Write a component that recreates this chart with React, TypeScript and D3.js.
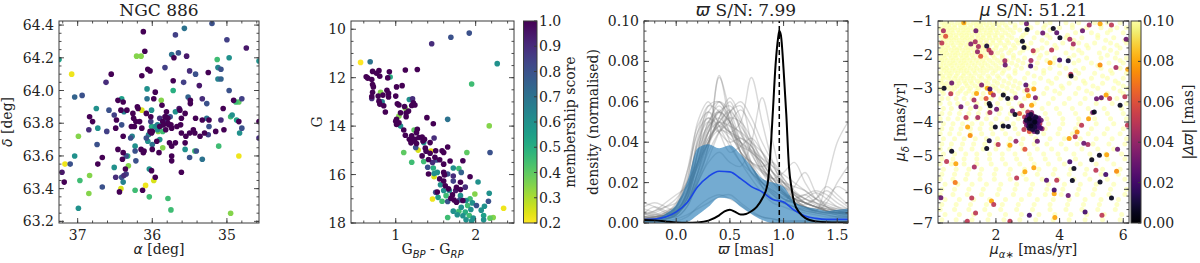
import React from "react";
import * as d3 from "d3";

const SERIF = "DejaVu Serif";
const MATH = "DejaVu Sans";
const EDGE = "#3a3a3a";

// ---- panel 1: sky positions of NGC 886 members [ra, dec, membership]
const skyPoints = [
  [35.20,64.41,0.8],[35.57,64.38,0.7],[36.12,64.36,1],[35.69,64.34,0.85],[35.00,64.31,0.85],[34.74,64.26,0.95],
  [36.10,64.24,1],[36.21,64.21,0.35],[36.15,64.21,0.35],[35.74,64.22,0.7],[35.65,64.23,0.8],[35.71,64.20,1],
  [35.54,64.21,0.95],[37.25,64.19,0.55],[35.13,64.19,0.45],[34.97,64.20,0.6],[34.57,64.18,0.6],[35.83,64.14,0.85],
  [36.06,64.13,1],[36.03,64.12,1],[37.08,64.10,0.22],[36.55,64.10,1],[35.50,64.12,0.9],[35.42,64.10,0.8],
  [35.25,64.11,1],[35.12,64.14,0.65],[35.08,64.13,0.8],[36.14,64.09,1],[36.62,64.05,0.9],[35.72,64.06,1],
  [35.58,64.05,0.85],[35.37,64.03,0.95],[35.12,64.07,0.65],[35.08,64.07,0.75],[36.07,64.01,0.6],[35.96,63.99,1],
  [35.72,64.00,0.5],[34.97,64.00,0.8],[37.04,63.96,0.75],[36.94,63.97,0.8],[36.41,63.95,0.55],[36.46,63.94,1],
  [36.07,63.95,0.7],[35.98,63.95,1],[35.88,63.94,0.35],[35.52,63.96,0.75],[35.49,63.94,1],[35.33,63.95,0.9],
  [34.91,63.94,1],[34.88,63.93,0.45],[34.84,63.93,0.4],[34.80,63.95,0.85],[36.39,63.93,1],[36.20,63.90,1],
  [36.19,63.89,1],[36.14,63.88,0.25],[36.01,63.88,0.6],[35.87,63.91,1],[35.49,63.92,1],[35.27,63.92,0.8],
  [35.05,63.89,1],[36.75,63.89,0.6],[36.58,63.88,0.8],[36.42,63.88,1],[36.34,63.88,1],[36.51,63.85,0.85],
  [36.38,63.87,0.65],[36.26,63.86,1],[36.08,63.86,1],[36.02,63.84,1],[35.81,63.87,1],[35.69,63.87,0.6],
  [35.63,63.88,1],[35.64,63.89,0.95],[35.56,63.86,1],[35.61,63.83,1],[35.42,63.83,1],[35.33,63.82,1],
  [35.27,63.83,0.7],[35.24,63.82,1],[35.08,63.82,0.9],[34.93,63.85,0.6],[34.95,63.84,0.45],[34.87,63.82,0.55],
  [34.84,63.81,1],[34.80,63.77,0.8],[34.83,63.74,0.6],[34.57,63.81,1],[34.57,63.71,0.9],[36.84,63.84,1],
  [36.80,63.81,1],[36.73,63.77,0.6],[36.48,63.82,1],[36.49,63.77,1],[36.41,63.79,0.8],[36.25,63.83,1],
  [36.22,63.81,1],[36.17,63.81,1],[36.28,63.78,1],[36.24,63.78,1],[36.14,63.77,1],[36.02,63.81,0.85],
  [36.01,63.78,0.5],[35.96,63.78,0.6],[35.93,63.79,0.65],[35.90,63.78,1],[35.86,63.81,1],[35.83,63.84,1],
  [35.82,63.81,0.85],[35.79,63.83,1],[35.76,63.84,0.8],[35.90,63.83,0.9],[35.87,63.79,0.6],[35.78,63.79,1],
  [35.75,63.79,1],[35.67,63.78,1],[35.62,63.79,1],[35.74,63.77,1],[35.82,63.76,1],[35.86,63.75,0.45],
  [35.92,63.75,0.35],[36.00,63.75,1],[36.03,63.75,1],[36.05,63.73,0.65],[36.06,63.69,0.6],[36.08,63.71,0.8],
  [36.01,63.74,1],[35.61,63.74,1],[35.55,63.72,1],[35.50,63.74,1],[35.43,63.74,1],[35.36,63.72,1],
  [35.30,63.74,1],[35.25,63.73,0.85],[35.15,63.75,1],[35.04,63.76,1],[35.24,63.78,0.8],[35.45,63.76,1],
  [36.85,63.76,0.9],[36.61,63.75,0.85],[36.39,63.72,1],[36.27,63.72,0.65],[36.29,63.71,0.8],[36.74,63.67,0.8],
  [36.23,63.66,0.6],[36.23,63.63,0.8],[36.15,63.64,1],[36.11,63.63,1],[36.12,63.62,1],[36.00,63.67,0.7],
  [36.00,63.64,1],[35.94,63.69,1],[35.90,63.70,0.6],[35.86,63.65,0.35],[35.77,63.68,1],[35.74,63.66,1],
  [35.69,63.68,1],[35.74,63.60,1],[35.74,63.57,1],[35.91,63.62,1],[35.56,63.64,0.6],[35.56,63.68,1],
  [35.43,63.63,0.45],[35.41,63.63,0.8],[35.50,63.59,0.8],[35.33,63.58,0.7],[35.61,63.50,1],[36.46,63.64,1],
  [36.39,63.62,1],[36.35,63.60,0.8],[36.33,63.60,0.5],[37.04,63.60,0.6],[36.67,63.59,1],[36.73,63.55,1],
  [37.10,63.55,0.8],[37.17,63.55,0.22],[36.40,63.58,1],[36.22,63.57,0.8],[36.32,63.54,0.35],[36.51,63.53,0.6],
  [36.36,63.52,1],[36.35,63.49,0.85],[36.38,63.48,0.9],[37.21,63.50,0.95],[37.18,63.44,1],[36.84,63.48,0.35],
  [36.97,63.45,0.45],[36.85,63.37,0.35],[36.99,63.28,0.6],[36.99,63.72,0.35],[36.67,63.41,0.8],[36.49,63.47,0.9],
  [36.41,63.47,0.8],[36.39,63.44,0.65],[36.44,63.38,1],[36.42,63.40,0.25],[36.23,63.39,0.45],[36.13,63.39,1],
  [36.09,63.42,0.22],[36.04,63.52,0.6],[36.01,63.51,1],[35.96,63.47,1],[35.98,63.45,0.25],[36.04,63.35,0.45],
  [35.79,63.34,0.45],[35.75,63.27,0.45],[34.84,63.60,0.22],[35.11,63.66,0.45],[34.95,63.25,0.35],
  [35.82,63.84,1],[35.79,63.80,1],[35.85,63.79,1],[35.93,63.76,0.6],
];
const skyXTicks = [37, 36, 35];
const skyYTicks = [63.2, 63.4, 63.6, 63.8, 64.0, 64.2, 64.4];

// ---- panel 2: colour-magnitude diagram [bp_rp, G, membership]
const cmdPoints = [
  [1.92,10.16,0.8],[1.69,10.33,0.8],[1.45,10.60,0.9],[0.56,11.37,0.2],[0.68,11.34,0.7],[2.27,11.42,0.6],
  [1.12,11.68,1],[1.27,11.66,1],[0.71,11.74,1],[0.79,11.71,1],[0.76,11.82,1],[0.92,11.76,1],[0.63,11.96,1],
  [0.65,12.02,1],[0.70,12.08,1],[0.80,11.94,1],[0.90,12.01,1],[0.93,11.97,0.5],[1.95,12.26,0.45],[0.71,12.28,1],
  [0.72,12.38,1],[1.01,12.38,1],[1.08,12.33,1],[0.71,12.60,1],[0.81,12.60,0.35],[0.89,12.52,1],[0.70,12.78,1],
  [0.70,12.86,0.9],[0.78,12.76,1],[0.84,12.72,1],[0.91,12.65,1],[0.91,12.80,1],[0.79,12.97,1],[0.83,13.00,0.65],
  [0.80,13.09,1],[0.85,13.16,1],[0.87,13.42,1],[1.00,12.76,1],[1.02,13.08,1],[1.04,13.13,1],[1.11,13.19,1],
  [1.17,12.90,0.6],[1.21,12.87,0.9],[1.22,13.04,1],[1.20,13.15,1],[1.24,13.13,1],[1.12,13.26,0.35],[1.06,13.45,1],
  [1.13,13.46,1],[1.16,13.38,1],[1.04,13.58,0.35],[1.01,13.72,1],[1.00,13.80,1],[1.01,13.93,1],[1.04,13.86,1],
  [1.13,13.61,1],[1.39,13.65,1],[1.65,13.72,0.7],[1.47,13.90,1],[2.17,13.99,0.35],[1.06,14.00,0.6],[1.10,14.16,1],
  [1.12,14.38,1],[1.23,14.16,0.4],[1.27,14.13,1],[1.26,14.27,1],[1.20,14.40,1],[1.17,14.54,1],[1.21,14.61,1],
  [1.24,14.54,1],[1.29,14.47,1],[1.33,14.45,1],[1.36,14.54,1],[1.34,14.61,1],[1.26,14.72,1],[1.19,14.69,1],
  [1.25,14.88,0.8],[1.28,14.99,0.25],[1.35,14.68,0.6],[1.37,14.91,1],[1.43,14.68,1],[1.48,14.49,0.9],[1.65,14.86,1],
  [1.38,15.04,1],[1.43,15.12,1],[1.44,15.03,0.22],[1.50,15.02,1],[1.58,15.02,1],[1.60,15.09,1],[1.49,15.29,1],
  [1.51,15.40,0.8],[1.10,15.09,0.4],[2.18,15.09,0.8],[1.89,15.09,0.4],[1.33,15.23,1],[1.35,15.46,0.45],
  [1.20,15.49,0.45],[1.41,15.38,1],[1.46,15.50,0.9],[1.55,15.39,1],[1.60,15.57,1],[1.68,15.44,1],[1.72,15.73,0.6],
  [1.84,15.43,1],[1.79,15.75,0.45],[1.40,15.70,0.8],[1.47,15.73,0.5],[1.41,15.98,1],[1.48,15.96,0.6],[1.52,15.91,0.6],
  [1.60,15.91,1],[1.61,16.02,1],[1.65,15.98,0.8],[1.72,16.06,0.9],[1.82,15.91,0.75],[1.93,16.09,1],[1.48,16.09,0.25],
  [1.55,16.18,1],[1.60,16.27,1],[1.72,16.27,0.85],[1.81,16.32,1],[2.03,16.31,0.6],[1.56,16.42,0.6],[1.62,16.46,1],
  [1.66,16.59,1],[1.76,16.53,1],[1.81,16.62,1],[1.87,16.52,0.9],[1.50,16.73,0.8],[1.60,16.66,0.6],[1.67,16.66,0.6],
  [1.75,16.66,0.95],[1.99,16.80,0.35],[2.17,16.77,0.6],[1.63,16.87,0.45],[1.71,16.84,1],[1.81,16.87,0.6],
  [1.46,17.01,0.22],[1.53,16.94,0.55],[1.69,16.98,1],[1.73,17.05,1],[1.80,17.05,0.8],[1.84,17.07,1],[1.88,17.07,0.6],
  [1.93,17.00,0.45],[1.58,17.10,0.45],[1.65,17.11,0.8],[1.76,17.14,1],[2.16,17.10,0.8],[1.96,17.17,0.6],
  [2.01,17.28,0.8],[1.90,17.28,0.45],[1.82,17.35,0.6],[1.72,17.51,0.6],[1.79,17.52,0.45],[1.87,17.55,0.5],
  [1.94,17.44,0.6],[2.07,17.47,0.6],[2.11,17.31,0.6],[2.35,17.39,0.22],[1.77,17.66,0.6],[1.84,17.70,0.6],
  [1.92,17.69,0.45],[1.97,17.80,0.6],[1.65,17.77,0.45],[2.10,17.87,0.6],[2.18,17.80,0.4],[2.22,17.77,0.35],
  [1.95,17.92,0.6],[1.88,17.87,0.6],[2.10,17.69,0.55],[1.52,16.72,1],
];
const cmdXTicks = [1, 2];
const cmdYTicks = [10, 12, 14, 16, 18];
const memberTicks = [0.2, 0.3, 0.4, 0.5, 0.6, 0.7, 0.8, 0.9, 1.0];

// ---- panel 3: parallax densities (values x 1000) on a 0.1 mas grid
const plxGrid = [-0.3,-0.2,-0.1,0,0.1,0.2,0.3,0.4,0.5,0.6,0.7,0.8,0.9,1.0,1.1,1.2,1.3,1.4,1.5,1.6];
const plxSamples = [
  [2,3,5,10,25,45,58,55,40,30,22,15,10,8,6,5,4,3,3,3],
  [5,8,6,4,12,35,55,60,50,35,28,20,15,12,10,8,6,5,4,4],
  [1,2,4,8,18,30,40,52,60,45,30,18,12,10,8,6,5,5,6,7],
  [10,8,5,3,8,20,38,73,50,35,25,20,15,10,8,6,5,4,3,3],
  [2,2,3,6,15,40,50,45,55,58,40,25,18,14,12,10,8,6,5,5],
  [3,5,8,12,20,30,45,55,50,40,35,30,25,20,15,10,8,6,5,5],
  [1,1,2,5,15,35,48,60,55,40,28,20,14,10,18,25,15,8,5,4],
  [6,4,3,5,10,25,40,50,45,50,72,50,30,18,12,8,6,5,5,6],
  [2,3,4,7,20,50,60,48,38,30,25,20,16,12,10,12,15,12,8,6],
  [8,10,8,6,10,25,45,55,58,50,35,25,20,15,10,8,6,10,20,28],
  [2,2,3,5,12,30,45,56,48,38,30,25,22,25,30,20,12,8,6,5],
  [1,2,3,8,25,48,55,50,45,40,30,22,17,12,10,8,6,20,40,50],
  [3,3,4,6,10,22,38,72,55,35,25,18,14,10,8,7,6,5,5,5],
  [4,6,10,14,18,28,40,48,45,42,38,30,22,16,12,10,8,6,5,5],
  [2,2,2,4,14,40,52,45,40,42,38,28,20,14,10,8,7,6,5,4],
  [1,1,2,4,10,25,40,50,55,48,40,32,25,20,15,12,10,8,6,5],
  [7,5,3,3,8,22,35,45,50,56,48,35,25,18,14,10,8,6,5,5],
  [2,3,5,9,20,38,48,52,45,35,30,28,30,22,14,10,8,7,6,6],
  [1,2,3,6,14,35,58,60,52,40,28,18,12,10,12,14,10,6,4,3],
  [3,3,4,8,18,32,45,50,48,45,40,35,28,20,14,10,12,16,12,8],
  [2,4,6,8,15,30,42,48,52,50,42,30,22,15,12,10,8,7,6,5],
  [5,3,2,4,12,30,50,55,45,35,30,26,22,18,15,12,10,8,7,6],
  [1,1,2,5,16,42,55,45,35,38,42,35,25,16,10,7,5,4,3,3],
  [3,4,5,7,12,24,38,52,62,52,38,28,20,15,12,10,8,6,5,5],
  [2,2,4,8,22,45,52,48,42,38,35,30,22,15,10,8,7,12,18,15],
  [1,2,3,5,10,20,32,45,55,60,52,40,30,22,16,12,9,7,6,5],
  [4,6,8,10,16,28,40,46,44,40,36,32,28,24,20,16,12,10,8,7],
  [2,3,4,6,14,34,50,58,50,38,28,20,16,13,12,14,16,14,10,7],
  [1,1,1,1,3,8,12,14,12,9,5,3,2,1,1,1,1,1,1,1],
  [0,0,1,2,4,7,10,13,14,10,6,3,2,1,1,1,1,1,1,1],
  [2,2,3,5,10,20,30,35,30,28,40,62,40,20,12,8,6,5,4,4],
  [3,2,2,4,12,28,42,50,56,46,34,26,22,20,18,16,12,9,7,6],
  [1,2,4,7,14,30,47,55,50,44,36,27,19,14,11,9,12,18,14,9],
];
const plxBandUpper = [1.5,2,4.5,9,20,37,39,37,38.5,34,28,22,20,18,10.5,8,7,6,6.5,7];
const plxBandLower = [0,0,0,0,0.5,4,8,12.5,12,8,4.5,1.5,0,0,0,0,0,0,0,0];
const plxMean = [1.7,2,3,5.5,10,18,23,25.6,25.3,22,18,15.4,11.6,10.4,6.3,3.5,2.3,1.8,1.8,1.8];
const clusterX = [-0.3,-0.2,-0.1,0,0.1,0.2,0.3,0.4,0.45,0.5,0.55,0.6,0.65,0.7,0.75,0.8,0.85,0.875,0.9,0.925,0.95,0.96,0.975,1.0,1.025,1.05,1.075,1.1,1.15,1.2,1.3,1.4,1.5,1.6];
const clusterDensity = [1.5,1.3,0.8,0.3,0.1,0.3,1.2,3.8,5.8,6.6,5.5,4.2,4.5,5.8,8,12,19,33,55,78,92,95,93,76,54,28,17,10,5,2.5,0.8,0.4,0.3,0.3];
const plxPeak = 0.96;
const plxXTicks = [0, 0.5, 1.0, 1.5];
const plxYTicks = [0, 0.02, 0.04, 0.06, 0.08, 0.1];

// ---- panel 4: proper motions
// field stars, one row per pmdec: [pmdec, pmra...]
const pmFieldRows = [
  [-1.05,0.3,0.45,0.6,0.8,0.95,1.1,1.3,1.45,1.6,1.8,2.0,2.2,2.45,2.8,3.3,3.7,4.2,4.6,5.1,5.5,5.9],
  [-1.12,0.38,0.52,0.7,0.88,1.02,1.2,1.38,1.52,1.7,1.9,2.1,2.3,2.6,3.0,3.55,4.4,5.3],
  [-1.2,0.25,0.4,0.55,0.7,0.9,1.05,1.2,1.4,1.55,1.75,1.9,2.1,2.35,2.6,3.1,3.5,4.0,4.4,4.85,5.3,5.8,6.1],
  [-1.27,0.3,0.48,0.62,0.8,0.97,1.12,1.3,1.47,1.63,1.82,2.0,2.2,2.45,2.75,3.7,4.7,5.6],
  [-1.35,0.35,0.5,0.65,0.85,1.0,1.15,1.35,1.5,1.7,1.85,2.05,2.3,2.55,2.95,3.3,3.9,4.5,5.0,5.5,6.0],
  [-1.42,0.27,0.44,0.58,0.75,0.92,1.08,1.25,1.42,1.6,1.78,1.97,2.18,2.4,2.85,3.6,4.25,5.2],
  [-1.5,0.3,0.45,0.6,0.75,0.95,1.1,1.25,1.45,1.6,1.8,2.0,2.2,2.5,2.8,3.2,3.7,4.2,4.7,5.2,5.7],
  [-1.57,0.36,0.52,0.68,0.85,1.02,1.18,1.36,1.53,1.7,1.9,2.1,2.35,2.65,3.45,4.45,5.45,6.05],
  [-1.65,0.25,0.4,0.6,0.8,0.95,1.15,1.3,1.5,1.7,1.9,2.15,2.4,2.7,3.1,3.6,4.1,4.6,5.1,5.6,6.1],
  [-1.72,0.3,0.48,0.66,0.9,1.08,1.25,1.42,1.6,1.8,2.02,2.27,2.55,2.9,3.85,4.85,5.8],
  [-1.8,0.35,0.5,0.7,0.85,1.05,1.2,1.4,1.6,1.75,2.0,2.3,2.6,3.0,3.45,3.9,4.4,4.9,5.4,5.9],
  [-1.87,0.27,0.42,0.6,0.77,0.95,1.12,1.3,1.48,1.67,1.9,2.17,2.47,2.85,3.3,4.6,5.6],
  [-1.95,0.3,0.45,0.65,0.8,1.0,1.15,1.35,1.55,1.8,2.05,2.4,2.75,3.2,3.6,4.2,4.7,5.25,5.8],
  [-2.02,0.37,0.54,0.72,0.9,1.07,1.25,1.45,1.65,1.9,2.2,2.55,3.4,4.45,5.5],
  [-2.1,0.25,0.4,0.6,0.75,0.95,1.1,1.3,1.5,1.7,1.95,2.2,2.55,2.9,3.35,3.85,4.3,4.85,5.3,5.75,6.1],
  [-2.17,0.3,0.47,0.65,0.83,1.0,1.18,1.38,1.58,1.8,2.05,2.35,2.7,3.6,4.6,5.9],
  [-2.25,0.35,0.55,0.7,0.9,1.05,1.25,1.45,1.65,1.9,2.15,2.5,2.85,3.3,3.8,4.45,5.0,5.55,6.0],
  [-2.32,0.27,0.44,0.6,0.78,0.95,1.13,1.33,1.55,1.75,2.0,2.3,2.65,3.05,4.0,5.2],
  [-2.4,0.3,0.45,0.65,0.85,1.0,1.2,1.4,1.6,1.85,2.1,2.4,2.8,3.25,3.7,4.2,4.75,5.3,5.9],
  [-2.47,0.37,0.53,0.72,0.9,1.08,1.3,1.5,1.72,1.98,2.25,2.6,3.5,4.5,5.6],
  [-2.55,0.25,0.45,0.6,0.8,1.0,1.15,1.35,1.6,1.9,2.2,2.6,3.0,3.5,4.0,4.6,5.1,5.65,6.1],
  [-2.63,0.33,0.55,0.75,0.97,1.22,1.48,1.75,2.05,2.4,3.2,4.3,5.35],
  [-2.7,0.35,0.5,0.7,0.9,1.1,1.3,1.55,1.8,2.1,2.45,2.9,3.4,3.9,4.5,5.0,5.5,6.0],
  [-2.78,0.27,0.6,0.8,1.0,1.2,1.42,1.68,1.95,2.25,2.6,3.65,4.75,5.75],
  [-2.85,0.3,0.45,0.65,0.85,1.05,1.25,1.5,1.75,2.05,2.4,2.75,3.2,3.75,4.3,4.8,5.35,5.85],
  [-2.93,0.38,0.58,0.78,1.1,1.35,1.62,1.9,2.2,2.55,3.0,4.05,5.05,6.0],
  [-3.0,0.25,0.5,0.7,0.95,1.2,1.45,1.7,2.0,2.35,2.7,3.15,3.6,4.1,4.6,5.2,5.7,6.15],
  [-3.08,0.3,0.62,0.88,1.15,1.4,1.8,2.1,2.5,2.9,3.85,4.85,5.9],
  [-3.15,0.35,0.6,0.8,1.05,1.3,1.6,1.9,2.25,2.6,3.0,3.5,4.0,4.5,5.0,5.5,6.0],
  [-3.3,0.3,0.5,0.75,1.0,1.25,1.55,1.85,2.15,2.5,2.9,3.3,3.8,4.3,4.8,5.3,5.8],
  [-3.45,0.25,0.55,0.8,1.1,1.4,1.7,2.05,2.4,2.75,3.2,3.65,4.15,4.65,5.15,5.65,6.1],
  [-3.6,0.35,0.6,0.9,1.2,1.5,1.8,2.15,2.5,2.85,3.45,3.9,4.4,4.9,5.4,5.95],
  [-3.75,0.3,0.55,0.85,1.15,1.45,1.75,2.1,2.45,2.8,3.55,4.0,4.5,5.0,5.5,6.0],
  [-3.9,0.25,0.5,0.8,1.1,1.4,1.7,2.0,2.35,2.7,3.6,4.1,4.6,5.1,5.6,6.1],
  [-4.05,0.35,0.65,0.95,1.25,1.55,1.85,2.2,2.55,3.65,4.1,4.6,5.15,5.7],
  [-4.2,0.3,0.6,0.9,1.2,1.5,1.85,2.2,2.6,2.9,3.55,4.0,4.5,5.0,5.5,6.0],
  [-4.35,0.25,0.55,0.85,1.2,1.55,1.9,2.3,2.7,3.1,3.5,3.95,4.4,4.9,5.4,5.9],
  [-4.5,0.35,0.7,1.0,1.35,1.7,2.05,2.45,2.85,3.25,3.7,4.15,4.65,5.15,5.65,6.1],
  [-4.65,0.3,0.6,0.95,1.3,1.65,2.0,2.4,2.8,3.2,3.6,4.05,4.55,5.05,5.55,6.05],
  [-4.8,0.25,0.55,0.9,1.25,1.6,2.0,2.4,2.85,3.3,3.75,4.2,4.7,5.2,5.7],
  [-4.95,0.35,0.7,1.05,1.4,1.8,2.2,2.6,3.05,3.5,3.95,4.45,4.95,5.45,5.95],
  [-5.1,0.3,0.65,1.0,1.4,1.8,2.2,2.65,3.1,3.55,4.0,4.5,5.0,5.5,6.05],
  [-5.25,0.25,0.6,1.0,1.4,1.85,2.3,2.75,3.2,3.65,4.15,4.65,5.15,5.7],
  [-5.4,0.35,0.75,1.15,1.55,2.0,2.45,2.9,3.35,3.85,4.35,4.85,5.35,5.9],
  [-5.55,0.3,0.7,1.1,1.5,1.95,2.4,2.85,3.3,3.8,4.3,4.8,5.3,5.85],
  [-5.7,0.25,0.65,1.05,1.5,1.95,2.45,2.95,3.45,3.95,4.45,4.95,5.5,6.05],
  [-5.85,0.4,0.8,1.25,1.7,2.15,2.65,3.15,3.65,4.15,4.65,5.15,5.7],
  [-6.0,0.3,0.7,1.15,1.6,2.1,2.6,3.1,3.6,4.1,4.6,5.1,5.6,6.1],
  [-6.15,0.25,0.65,1.1,1.55,2.05,2.55,3.05,3.55,4.05,4.55,5.05,5.55,6.05],
  [-6.3,0.4,0.85,1.3,1.8,2.3,2.8,3.3,3.8,4.3,4.8,5.3,5.85],
  [-6.45,0.3,0.75,1.2,1.7,2.2,2.7,3.2,3.7,4.25,4.75,5.25,5.8],
  [-6.6,0.25,0.7,1.15,1.65,2.15,2.65,3.15,3.7,4.2,4.7,5.2,5.75],
  [-6.75,0.4,0.85,1.3,1.8,2.3,2.8,3.35,3.85,4.35,4.85,5.4,5.95],
  [-6.9,0.3,0.75,1.25,1.75,2.25,2.75,3.25,3.8,4.3,4.8,5.35,5.9],
];
// stars with small parallax offset [pmra, pmdec, |dplx|]
const pmPoints = [
  [0.99,-1.05,.08],[0.35,-1.29,.045],[1.37,-1.29,.03],[2.96,-1.08,.03],[2.98,-1.25,.005],[3.80,-1.22,.005],
  [3.91,-1.35,.025],[4.01,-1.50,.005],[4.72,-1.29,.03],[5.27,-1.08,.08],[5.63,-1.12,.05],[6.09,-1.54,.03],
  [4.93,-1.12,.045],[3.47,-1.36,.03],[1.21,-1.68,.035],[1.45,-1.76,.045],[1.71,-1.74,.01],[1.35,-1.62,.045],
  [2.83,-1.60,.005],[2.88,-1.79,.005],[3.17,-1.88,.05],[3.75,-1.86,.05],[4.32,-1.54,.045],[4.43,-1.68,.045],
  [1.42,-1.91,.04],[1.78,-1.86,.05],[1.85,-1.94,.045],[2.28,-2.18,.045],[2.29,-2.31,.03],[3.09,-2.34,.02],
  [3.10,-2.17,.045],[3.70,-2.24,.08],[4.00,-2.16,.02],[4.27,-2.18,.01],[4.35,-2.58,.05],[4.36,-2.63,.005],
  [5.27,-2.31,.075],[5.77,-2.38,.045],[6.14,-2.43,.08],[0.37,-3.00,.005],[0.61,-2.84,.03],[0.58,-3.16,.05],
  [1.39,-3.15,.08],[1.55,-2.90,.035],[1.73,-3.00,.08],[1.81,-3.02,.02],[1.83,-3.13,.075],[1.92,-3.20,.045],
  [2.23,-3.20,.005],[1.69,-3.30,.06],[1.79,-3.45,.005],[1.82,-3.52,.005],[2.02,-3.62,.03],[2.37,-3.30,.005],
  [2.63,-3.28,.03],[2.94,-2.90,.025],[2.98,-3.05,.05],[3.19,-3.02,.08],[3.24,-3.28,.035],[3.02,-3.22,.08],
  [3.12,-3.50,.08],[2.81,-3.52,.05],[2.74,-3.75,.06],[2.60,-3.78,.005],[2.52,-3.67,.03],[2.39,-4.13,.005],
  [2.23,-4.12,.005],[1.98,-4.15,.005],[1.81,-3.72,.045],[1.43,-3.87,.045],[1.06,-3.87,.05],[0.90,-3.55,.03],
  [1.37,-3.55,.035],[1.31,-3.35,.045],[1.11,-4.15,.08],[1.19,-4.40,.075],[1.79,-4.56,.01],[1.71,-4.79,.005],
  [2.07,-4.67,.05],[2.44,-4.69,.08],[2.63,-4.57,.04],[3.30,-4.57,.03],[2.91,-4.81,.06],[0.61,-4.87,.005],
  [0.45,-5.17,.05],[0.74,-5.24,.08],[1.32,-5.34,.045],[0.72,-5.80,.07],[2.65,-5.66,.05],[2.91,-5.48,.08],
  [3.19,-5.36,.08],[3.59,-5.73,.025],[3.83,-6.02,.02],[3.83,-6.13,.08],[3.91,-5.73,.05],[4.32,-5.18,.02],
  [4.45,-5.38,.005],[4.40,-5.74,.005],[4.30,-4.49,.08],[4.49,-4.44,.05],[4.55,-4.30,.075],[4.69,-4.10,.05],
  [4.76,-4.63,.03],[4.89,-4.67,.045],[4.91,-3.90,.08],[5.04,-3.72,.03],[5.09,-3.70,.005],[5.16,-3.31,.03],
  [5.31,-3.28,.03],[5.46,-3.20,.08],[5.57,-3.30,.05],[5.90,-3.50,.005],[6.05,-3.25,.05],[6.13,-4.10,.05],
  [5.48,-4.97,.08],[5.25,-4.99,.005],[5.01,-5.12,.005],[5.82,-4.81,.03],[5.79,-5.46,.075],[5.27,-5.78,.005],
  [5.14,-5.43,.05],[5.45,-5.56,.02],[5.63,-6.26,.005],[5.33,-6.77,.05],[4.80,-6.67,.02],[4.27,-6.18,.03],
  [3.05,-6.77,.02],[3.85,-6.84,.08],[2.44,-6.95,.05],[1.93,-6.45,.05],[1.86,-6.35,.08],[1.24,-6.26,.05],
  [1.36,-6.70,.05],[1.10,-6.95,.05],[0.27,-6.25,.03],[0.42,-1.45,.06],[0.30,-1.65,.05],[1.52,-2.05,.06],
];
// the cluster core
const pmCluster = [
  [3.02,-3.80,.02],[3.10,-3.78,.01],[3.18,-3.82,.03],[3.25,-3.85,.01],[3.30,-3.90,.02],[2.98,-3.88,.03],
  [3.05,-3.90,.005],[3.12,-3.88,.02],[3.20,-3.92,.01],[3.28,-3.95,.03],[3.35,-3.98,.02],[2.95,-3.95,.01],
  [3.00,-3.98,.02],[3.08,-3.96,.01],[3.15,-3.97,.03],[3.22,-4.00,.005],[3.30,-4.02,.02],[2.98,-4.03,.03],
  [3.05,-4.05,.01],[3.12,-4.04,.02],[3.18,-4.06,.01],[3.25,-4.08,.03],[3.32,-4.06,.04],[3.02,-4.12,.02],
  [3.10,-4.12,.005],[3.16,-4.14,.03],[3.22,-4.15,.01],[3.28,-4.13,.02],[3.08,-4.20,.03],[3.15,-4.22,.01],
  [3.22,-4.22,.02],[3.30,-4.20,.04],[2.92,-4.00,.04],[3.38,-4.05,.05],[3.35,-3.88,.03],[3.12,-3.72,.04],
  [3.00,-3.70,.05],[3.20,-4.28,.03],[3.05,-4.28,.06],[2.90,-3.85,.05],[3.40,-4.18,.02],[3.14,-3.90,.02],
  [3.18,-4.00,.01],[3.10,-4.00,.02],[3.24,-3.90,.02],[3.06,-3.84,.03],[3.26,-4.02,.015],[3.04,-4.18,.01],
  [3.34,-4.12,.025],[2.96,-4.10,.035],[3.45,-4.20,.04],[3.30,-4.30,.01],[2.88,-4.22,.05],[3.42,-3.95,.03],
];
const pmXTicks = [2, 4, 6];
const pmYTicks = [-7, -6, -5, -4, -3, -2, -1];
const dplxTicks = [0, 0.02, 0.04, 0.06, 0.08, 0.1];

const TOP = 21, BOTTOM = 223;

type Lin = d3.ScaleLinear<number, number>;

function minorValues(s: Lin, step: number) {
  const [a, b] = s.domain();
  const lo = Math.min(a, b), hi = Math.max(a, b);
  return d3.range(Math.ceil(lo / step - 1e-6) * step, hi + 1e-9, step);
}

// box, inward ticks on all four sides, tick labels
function Frame({ x, y, xTicks, yTicks, xMinor, yMinor, xFmt, yFmt }: any) {
  const [l, r] = x.range();
  const [b, t] = y.range();
  const segs: number[][] = [];
  xTicks.forEach((v: number) => { const p = x(v); segs.push([p, b, p, b - 5], [p, t, p, t + 5]); });
  yTicks.forEach((v: number) => { const p = y(v); segs.push([l, p, l + 5, p], [r, p, r - 5, p]); });
  minorValues(x, xMinor).forEach((v) => { const p = x(v); segs.push([p, b, p, b - 2.5], [p, t, p, t + 2.5]); });
  minorValues(y, yMinor).forEach((v) => { const p = y(v); segs.push([l, p, l + 2.5, p], [r, p, r - 2.5, p]); });
  return (
    <g>
      {segs.map((s, i) => (
        <line key={i} x1={s[0]} y1={s[1]} x2={s[2]} y2={s[3]} stroke={EDGE} strokeWidth={0.9} />
      ))}
      <rect x={l} y={t} width={r - l} height={b - t} fill="none" stroke={EDGE} strokeWidth={1} />
      {xTicks.map((v: number) => (
        <text key={"x" + v} x={x(v)} y={b + 17} textAnchor="middle" fontSize={14} fontFamily={SERIF} fill="#222">
          {xFmt(v)}
        </text>
      ))}
      {yTicks.map((v: number) => (
        <text key={"y" + v} x={l - 5} y={y(v)} dy="0.36em" textAnchor="end" fontSize={14} fontFamily={SERIF} fill="#222">
          {yFmt(v)}
        </text>
      ))}
    </g>
  );
}

function Colorbar({ id, x0, x1, scale, interp, ticks, fmt }: any) {
  const stops = d3.range(0, 1.0001, 0.05);
  return (
    <g>
      <defs>
        <linearGradient id={id} x1="0" y1="1" x2="0" y2="0">
          {stops.map((s) => (
            <stop key={s} offset={s} stopColor={interp(s)} />
          ))}
        </linearGradient>
      </defs>
      <rect x={x0} y={TOP} width={x1 - x0} height={BOTTOM - TOP} fill={`url(#${id})`} stroke={EDGE} strokeWidth={1} />
      {ticks.map((v: number) => (
        <g key={v}>
          <line x1={x1} x2={x1 - 3} y1={scale(v)} y2={scale(v)} stroke={EDGE} />
          <text x={x1 + 2} y={scale(v)} dy="0.36em" fontSize={14} fontFamily={SERIF} fill="#222">
            {fmt(v)}
          </text>
        </g>
      ))}
    </g>
  );
}

const minus = (s: string) => s.replace("-", "\u2212");

export default function App() {
  // panel 1
  const x1 = d3.scaleLinear().domain([37.25, 34.57]).range([59, 259]);
  const y1 = d3.scaleLinear().domain([63.19, 64.425]).range([BOTTOM, TOP]);
  const memberColor = (m: number) => d3.interpolateViridis(1 - (m - 0.2) / 0.8);
  const sky = [...skyPoints].sort((a, b) => a[2] - b[2]);

  // panel 2
  const x2 = d3.scaleLinear().domain([0.44, 2.48]).range([351, 514]);
  const y2 = d3.scaleLinear().domain([18, 9.66]).range([BOTTOM, TOP]);
  const cb2 = d3.scaleLinear().domain([0.2, 1.0]).range([BOTTOM, TOP]);
  const cmd = [...cmdPoints].sort((a, b) => a[2] - b[2]);

  // panel 3
  const x3 = d3.scaleLinear().domain([-0.3, 1.6]).range([644, 848]);
  const y3 = d3.scaleLinear().domain([0, 0.1]).range([BOTTOM, TOP]);
  const greyLine = d3.line<number>().x((_, i) => x3(plxGrid[i])).y((d) => y3(d / 1000)).curve(d3.curveCatmullRom.alpha(0.5));
  const band = d3
    .area<number>()
    .x((_, i) => x3(plxGrid[i]))
    .y0((_, i) => y3(plxBandLower[i] / 1000))
    .y1((d) => y3(d / 1000))
    .curve(d3.curveMonotoneX);
  const meanLine = d3.line<number>().x((_, i) => x3(plxGrid[i])).y((d) => y3(d / 1000)).curve(d3.curveMonotoneX);
  const clusterLine = d3.line<number>().x((_, i) => x3(clusterX[i])).y((d) => y3(d / 1000)).curve(d3.curveMonotoneX);

  // panel 4
  const x4 = d3.scaleLinear().domain([0.18, 6.18]).range([938, 1129]);
  const y4 = d3.scaleLinear().domain([-7, -1]).range([BOTTOM, TOP]);
  const cb4 = d3.scaleLinear().domain([0, 0.1]).range([BOTTOM, TOP]);
  const dplxColor = (v: number) => d3.interpolateInferno(Math.min(1, v / 0.1));
  const field: number[][] = [];
  pmFieldRows.forEach((row) => row.slice(1).forEach((v) => field.push([v, row[0]])));
  const coloured = [...pmPoints, ...pmCluster].sort((a, b) => b[2] - a[2]);

  const label = { fontSize: 14, fontFamily: SERIF, fill: "#222" } as const;
  const title = { fontSize: 17, fontFamily: SERIF, fill: "#222", textAnchor: "middle" } as const;
  const mathIt = { fontFamily: MATH, fontStyle: "italic" } as const;

  return (
    <svg width={1200} height={263} style={{ position: "absolute", left: 0, top: 0, background: "#fff" }}>
      <defs>
        <clipPath id="c1"><rect x={59} y={TOP} width={200} height={BOTTOM - TOP} /></clipPath>
        <clipPath id="c2"><rect x={351} y={TOP} width={163} height={BOTTOM - TOP} /></clipPath>
        <clipPath id="c3"><rect x={644} y={TOP} width={204} height={BOTTOM - TOP} /></clipPath>
        <clipPath id="c4"><rect x={938} y={TOP} width={191} height={BOTTOM - TOP} /></clipPath>
      </defs>

      {/* panel 1 */}
      <g clipPath="url(#c1)">
        {sky.map((d, i) => (
          <circle key={i} cx={x1(d[0])} cy={y1(d[1])} r={2.8} fill={memberColor(d[2])} />
        ))}
      </g>
      <Frame x={x1} y={y1} xTicks={skyXTicks} yTicks={skyYTicks} xMinor={0.2} yMinor={0.05}
        xFmt={(v: number) => String(v)} yFmt={(v: number) => v.toFixed(1)} />
      <text x={159} y={16} {...title}>NGC 886</text>
      <text x={159} y={254} textAnchor="middle" {...label}>
        <tspan {...mathIt}>α</tspan> [deg]
      </text>
      <text transform="translate(12,122) rotate(-90)" textAnchor="middle" {...label}>
        <tspan {...mathIt}>δ</tspan> [deg]
      </text>

      {/* panel 2 */}
      <g clipPath="url(#c2)">
        {cmd.map((d, i) => (
          <circle key={i} cx={x2(d[0])} cy={y2(d[1])} r={2.8} fill={memberColor(d[2])} />
        ))}
      </g>
      <Frame x={x2} y={y2} xTicks={cmdXTicks} yTicks={cmdYTicks} xMinor={0.2} yMinor={0.5}
        xFmt={(v: number) => String(v)} yFmt={(v: number) => String(v)} />
      <Colorbar id="g2" x0={523.5} x1={537} scale={cb2} interp={(s: number) => d3.interpolateViridis(1 - s)}
        ticks={memberTicks} fmt={(v: number) => v.toFixed(1)} />
      <text x={432.5} y={254} textAnchor="middle" {...label}>
        G<tspan dy={4} fontSize={10} {...mathIt}>BP</tspan>
        <tspan dy={-4}> - G</tspan>
        <tspan dy={4} fontSize={10} {...mathIt}>RP</tspan>
      </text>
      <text transform="translate(322,122) rotate(-90)" textAnchor="middle" {...label}>G</text>
      <text transform="translate(575,122) rotate(-90)" textAnchor="middle" {...label}>membership score</text>

      {/* panel 3 */}
      <g clipPath="url(#c3)">
        {plxSamples.map((c, i) => (
          <path key={i} d={greyLine(c) || ""} fill="none" stroke="#777" strokeOpacity={0.28} strokeWidth={1.4} />
        ))}
        <path d={band(plxBandUpper) || ""} fill="#1f77b4" fillOpacity={0.62} />
        <path d={meanLine(plxMean) || ""} fill="none" stroke="#1a45e6" strokeWidth={1.6} />
        <path d={clusterLine(clusterDensity) || ""} fill="none" stroke="#000" strokeWidth={2} />
        <line x1={x3(plxPeak)} x2={x3(plxPeak)} y1={y3(0)} y2={y3(0.1)} stroke="#000" strokeWidth={1.5} strokeDasharray="5,3" />
      </g>
      <Frame x={x3} y={y3} xTicks={plxXTicks} yTicks={plxYTicks} xMinor={0.1} yMinor={0.005}
        xFmt={(v: number) => v.toFixed(1)} yFmt={(v: number) => v.toFixed(2)} />
      <text x={746} y={16} {...title}>
        <tspan {...mathIt}>ϖ</tspan> S/N: 7.99
      </text>
      <text x={746} y={254} textAnchor="middle" {...label}>
        <tspan {...mathIt}>ϖ</tspan> [mas]
      </text>
      <text transform="translate(598,122) rotate(-90)" textAnchor="middle" {...label}>density (normalised)</text>

      {/* panel 4 */}
      <g clipPath="url(#c4)">
        {field.map((d, i) => (
          <circle key={"f" + i} cx={x4(d[0])} cy={y4(d[1])} r={2.5} fill="#fcffa4" fillOpacity={0.6} />
        ))}
        {coloured.map((d, i) => (
          <circle key={"c" + i} cx={x4(d[0])} cy={y4(d[1])} r={2.5} fill={dplxColor(d[2])} fillOpacity={0.92} />
        ))}
      </g>
      <Frame x={x4} y={y4} xTicks={pmXTicks} yTicks={pmYTicks} xMinor={0.5} yMinor={0.2}
        xFmt={(v: number) => String(v)} yFmt={(v: number) => minus(String(v))} />
      <Colorbar id="g4" x0={1131} x1={1141} scale={cb4} interp={d3.interpolateInferno}
        ticks={dplxTicks} fmt={(v: number) => v.toFixed(2)} />
      <text x={1033.5} y={16} {...title}>
        <tspan {...mathIt}>μ</tspan> S/N: 51.21
      </text>
      <text x={1033.5} y={254} textAnchor="middle" {...label}>
        <tspan {...mathIt}>μ</tspan>
        <tspan dy={4} fontSize={10} {...mathIt}>α∗</tspan>
        <tspan dy={-4}> [mas/yr]</tspan>
      </text>
      <text transform="translate(905,122) rotate(-90)" textAnchor="middle" {...label}>
        <tspan {...mathIt}>μ</tspan>
        <tspan dy={4} fontSize={10} {...mathIt}>δ</tspan>
        <tspan dy={-4}> [mas/yr]</tspan>
      </text>
      <text transform="translate(1193,122) rotate(-90)" textAnchor="middle" {...label}>
        |<tspan {...mathIt}>Δϖ</tspan>| [mas]
      </text>
    </svg>
  );
}
